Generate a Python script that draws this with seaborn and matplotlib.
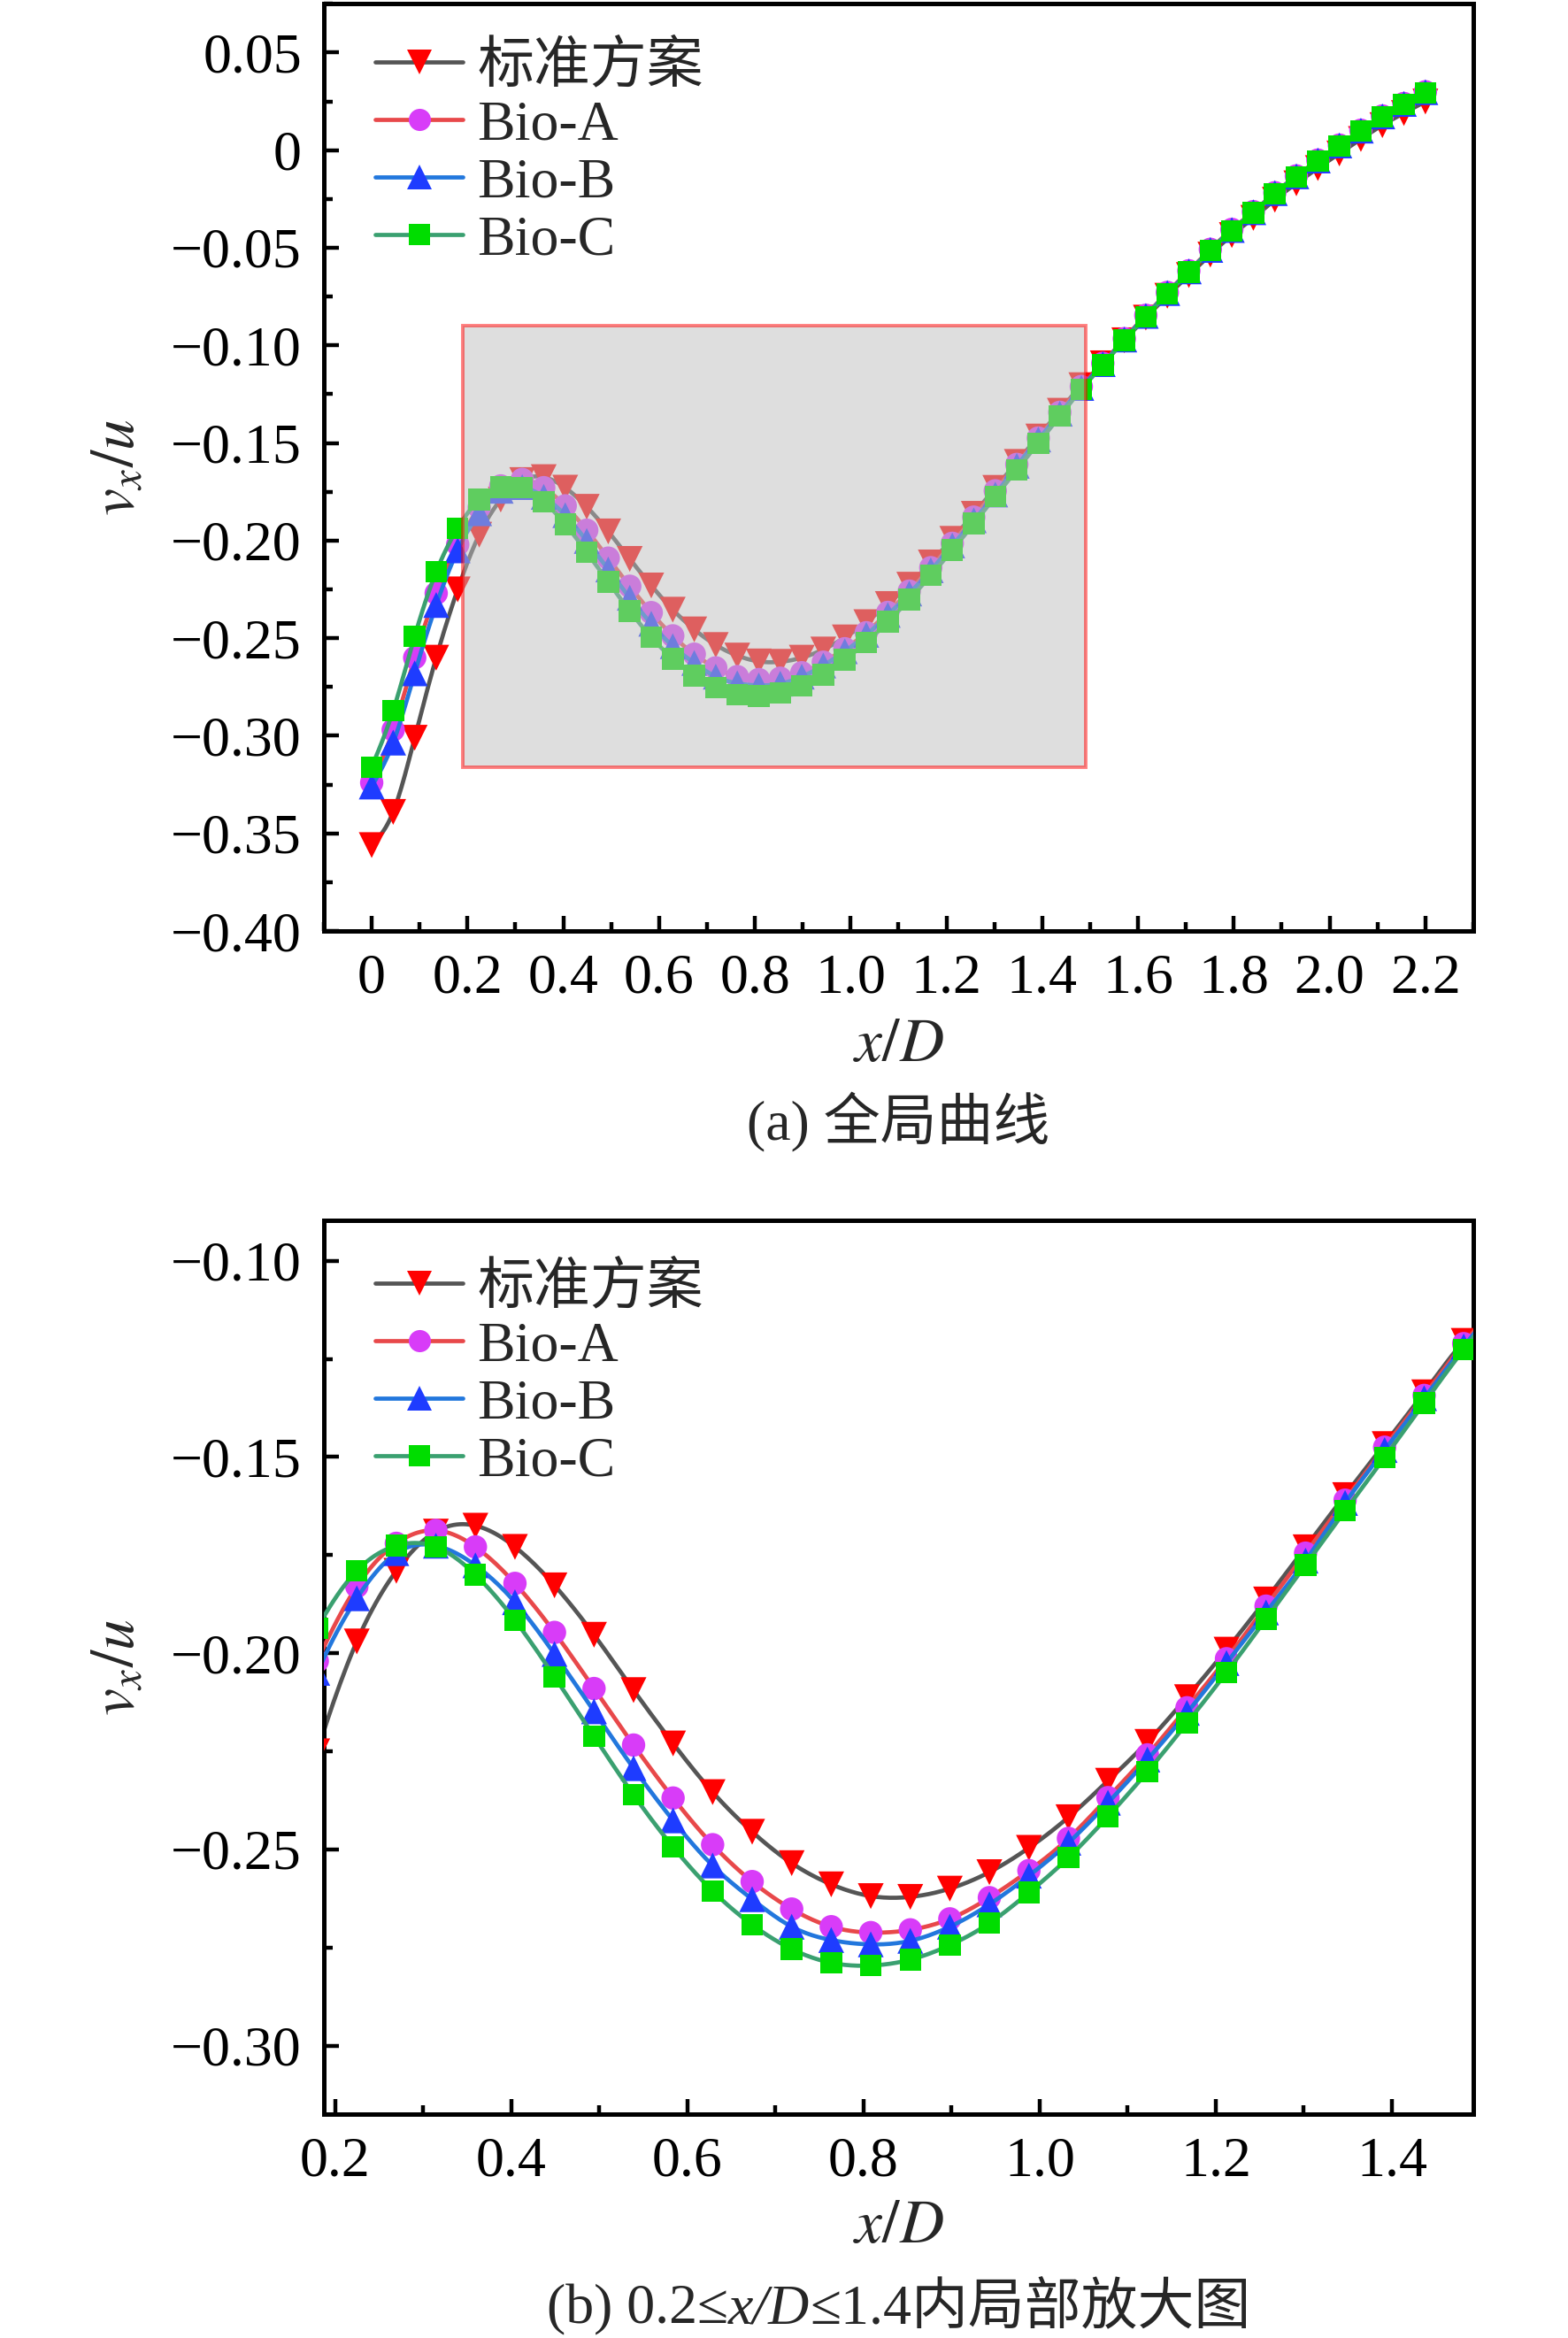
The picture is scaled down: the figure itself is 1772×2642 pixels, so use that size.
import numpy as np
import pandas as pd
import matplotlib
matplotlib.use('Agg')
import matplotlib.pyplot as plt
import seaborn as sns
from matplotlib.lines import Line2D
from matplotlib.patches import Rectangle
from matplotlib.ticker import FixedLocator, MultipleLocator, FuncFormatter

# x/D sampling points (50 points from 0 to 2.2)
x_d = [0.0000, 0.0449, 0.0898, 0.1347, 0.1796, 0.2245, 0.2694, 0.3143, 0.3592, 0.4041,
       0.4490, 0.4939, 0.5388, 0.5837, 0.6286, 0.6735, 0.7184, 0.7633, 0.8082, 0.8531,
       0.8980, 0.9429, 0.9878, 1.0327, 1.0776, 1.1224, 1.1673, 1.2122, 1.2571, 1.3020,
       1.3469, 1.3918, 1.4367, 1.4816, 1.5265, 1.5714, 1.6163, 1.6612, 1.7061, 1.7510,
       1.7959, 1.8408, 1.8857, 1.9306, 1.9755, 2.0204, 2.0653, 2.1102, 2.1551, 2.2000]

# vx/u
std = [-0.356, -0.339, -0.301, -0.260, -0.225, -0.197, -0.179, -0.1690, -0.1675, -0.1729,
       -0.1827, -0.1953, -0.2094, -0.2230, -0.2354, -0.2455, -0.2535, -0.2589, -0.2619, -0.2621,
       -0.2600, -0.2558, -0.2496, -0.2418, -0.2325, -0.2226, -0.2112, -0.1991, -0.1863, -0.1730,
       -0.1597, -0.1467, -0.1335, -0.1204, -0.1092, -0.0974, -0.0858, -0.0746, -0.0640, -0.0535,
       -0.0435, -0.0347, -0.0254, -0.0170, -0.0092, -0.0017, 0.0057, 0.0128, 0.0190, 0.0249]
bio_a = [-0.324, -0.297, -0.260, -0.227, -0.202, -0.183, -0.172, -0.1687, -0.1729, -0.1822,
         -0.1947, -0.2090, -0.2234, -0.2369, -0.2488, -0.2582, -0.2652, -0.2697, -0.2712, -0.2705,
         -0.2677, -0.2623, -0.2554, -0.2472, -0.2368, -0.2259, -0.2139, -0.2014, -0.1880, -0.1745,
         -0.1610, -0.1475, -0.1343, -0.1211, -0.1092, -0.0966, -0.0846, -0.0729, -0.0618, -0.0508,
         -0.0406, -0.0315, -0.0218, -0.0132, -0.0051, 0.0026, 0.0102, 0.0175, 0.0239, 0.0299]
bio_b = [-0.326, -0.3035, -0.268, -0.233, -0.205, -0.186, -0.1745, -0.1726, -0.1776, -0.1870,
         -0.2002, -0.2148, -0.2293, -0.2426, -0.2541, -0.2627, -0.2697, -0.2731, -0.2742, -0.2733,
         -0.2697, -0.2640, -0.2567, -0.2483, -0.2381, -0.2271, -0.2152, -0.2025, -0.1896, -0.1764,
         -0.1617, -0.1482, -0.1350, -0.1218, -0.1096, -0.0970, -0.0849, -0.0732, -0.0621, -0.0511,
         -0.0409, -0.0318, -0.0220, -0.0134, -0.0053, 0.0024, 0.0100, 0.0173, 0.0237, 0.0297]
bio_c = [-0.316, -0.287, -0.249, -0.216, -0.1936, -0.179, -0.1726, -0.1729, -0.1800, -0.1916,
         -0.2060, -0.2212, -0.2361, -0.2494, -0.2606, -0.2692, -0.2754, -0.2789, -0.2796, -0.2781,
         -0.2744, -0.2688, -0.2610, -0.2521, -0.2416, -0.2302, -0.2178, -0.2049, -0.1913, -0.1775,
         -0.1637, -0.1501, -0.1362, -0.1226, -0.1100, -0.0974, -0.0853, -0.0736, -0.0625, -0.0515,
         -0.0413, -0.0322, -0.0224, -0.0138, -0.0057, 0.0021, 0.0097, 0.0170, 0.0234, 0.0294]

labels = ['标准方案', 'Bio-A', 'Bio-B', 'Bio-C']
line_colors = ['#555555', '#e8484a', '#2277dd', '#3aa070']
marker_colors = ['#ff0000', '#d83cf8', '#1e3cff', '#00dd00']
markers = ['v', 'o', '^', 's']
marker_sizes = [10.5, 9.5, 10.5, 8.8]

df = pd.DataFrame({'x': x_d, labels[0]: std, labels[1]: bio_a,
                   labels[2]: bio_b, labels[3]: bio_c})


def natural_spline(x, y, num=600):
    """natural cubic spline through the points, for a smooth connecting line"""
    x = np.asarray(x, float)
    y = np.asarray(y, float)
    n = len(x)
    h = np.diff(x)
    A = np.zeros((n, n))
    r = np.zeros(n)
    A[0, 0] = A[-1, -1] = 1
    for i in range(1, n - 1):
        A[i, i - 1] = h[i - 1]
        A[i, i] = 2 * (h[i - 1] + h[i])
        A[i, i + 1] = h[i]
        r[i] = 6 * ((y[i + 1] - y[i]) / h[i] - (y[i] - y[i - 1]) / h[i - 1])
    M = np.linalg.solve(A, r)
    xs = np.linspace(x[0], x[-1], num)
    idx = np.clip(np.searchsorted(x, xs) - 1, 0, n - 2)
    x0, x1 = x[idx], x[idx + 1]
    hh = x1 - x0
    a = (x1 - xs) / hh
    b = (xs - x0) / hh
    ys = (a * y[idx] + b * y[idx + 1]
          + ((a ** 3 - a) * M[idx] + (b ** 3 - b) * M[idx + 1]) * hh ** 2 / 6)
    return xs, ys


sns.set_theme(style='ticks')
plt.rcParams['font.family'] = ['Liberation Serif', 'Noto Sans CJK SC']
plt.rcParams['mathtext.fontset'] = 'stix'
plt.rcParams['axes.unicode_minus'] = True
plt.rcParams['axes.linewidth'] = 1.8
plt.rcParams['axes.edgecolor'] = 'black'

FS = 23
LW = 1.7

fig = plt.figure(figsize=(8.86, 13.21), dpi=200)
ax1 = fig.add_axes([0.2065, 0.6018, 0.7331, 0.3966])
ax2 = fig.add_axes([0.2065, 0.0957, 0.7331, 0.3823])


def draw_curves(ax):
    for i, name in enumerate(labels):
        xs, ys = natural_spline(df['x'], df[name])
        sns.lineplot(x=xs, y=ys, ax=ax, color=line_colors[i], linewidth=LW,
                     estimator=None, sort=False, zorder=2 + 2 * i)
        sns.scatterplot(x=df['x'], y=df[name], ax=ax, marker=markers[i],
                        s=marker_sizes[i] ** 2, color=marker_colors[i],
                        edgecolor='none', linewidth=0, zorder=3 + 2 * i)


def fmt(nd):
    def f(v, pos):
        if abs(v) < 1e-9:
            return '0'
        return ('%.*f' % (nd, v)).replace('-', '\u2212')
    return FuncFormatter(f)


def style_axes(ax, xt, yt, xnd, ynd, xminor, yminor, leg_y):
    ax.xaxis.set_major_locator(FixedLocator(xt))
    ax.yaxis.set_major_locator(FixedLocator(yt))
    ax.xaxis.set_minor_locator(MultipleLocator(xminor))
    ax.yaxis.set_minor_locator(MultipleLocator(yminor))
    ax.xaxis.set_major_formatter(fmt(xnd))
    ax.yaxis.set_major_formatter(fmt(ynd))
    ax.tick_params(which='both', direction='in', top=False, right=False,
                   labelsize=FS, colors='black', width=1.6)
    ax.tick_params(which='major', length=6, pad=9)
    ax.tick_params(which='minor', length=3.5)
    for s in ax.spines.values():
        s.set_visible(True)
        s.set_color('black')
        s.set_linewidth(1.8)
    ax.set_xlabel('')
    ax.set_ylabel('')
    handles = [Line2D([], [], color=line_colors[i], linewidth=LW, marker=markers[i],
                      markersize=marker_sizes[i] * 0.95, markerfacecolor=marker_colors[i],
                      markeredgewidth=0) for i in range(4)]
    ax.legend(handles, labels, loc='upper left', bbox_to_anchor=(0.03, leg_y),
              frameon=False, fontsize=FS, handlelength=1.55, handletextpad=0.25,
              labelspacing=0.1, borderaxespad=0.1, borderpad=0.2)


# (a) full curve
draw_curves(ax1)
ax1.set_xlim(-0.1, 2.3)
ax1.set_ylim(-0.40, 0.075)
style_axes(ax1, np.arange(0, 2.21, 0.2), np.arange(-0.40, 0.051, 0.05), 1, 2, 0.1, 0.025, 0.978)
# zoom window (grey box drawn over the curves)
ax1.add_patch(Rectangle((0.19, -0.316), 1.30, 0.226, facecolor='#bebebe',
                        edgecolor='red', linewidth=1.4, alpha=0.5, zorder=20))

# (b) zoomed part
draw_curves(ax2)
ax2.set_xlim(0.187, 1.4925)
ax2.set_ylim(-0.3175, -0.0897)
style_axes(ax2, np.arange(0.2, 1.41, 0.2), np.arange(-0.30, -0.099, 0.05), 1, 2, 0.1, 0.025, 0.972)

# axis titles
for ax, yc in [(ax1, 0.6018 + 0.3966 / 2), (ax2, 0.0957 + 0.3823 / 2)]:
    fig.text(0.076, yc, r'$v_x/u$', rotation=90, ha='center', va='center', fontsize=FS + 2)
fig.text(0.573, 0.5526, r'$x/D$', ha='center', va='center', fontsize=FS + 2)
fig.text(0.573, 0.0473, r'$x/D$', ha='center', va='center', fontsize=FS + 2)

# captions
fig.text(0.573, 0.5204, '(a) 全局曲线', ha='center', va='center', fontsize=FS)

runs = [('(b) 0.2≤', 'normal'), ('x/D', 'italic'), ('≤1.4内局部放大图', 'normal')]
texts = [fig.text(0, 0.0121, s, style=st, va='center', ha='left', fontsize=FS)
         for s, st in runs]
fig.canvas.draw()
renderer = fig.canvas.get_renderer()
fig_w = fig.bbox.width
widths = [t.get_window_extent(renderer).width for t in texts]
x0 = 0.573 * fig_w - sum(widths) / 2
for t, w in zip(texts, widths):
    t.set_x(x0 / fig_w)
    x0 += w

fig.savefig('out.png', dpi=200)
